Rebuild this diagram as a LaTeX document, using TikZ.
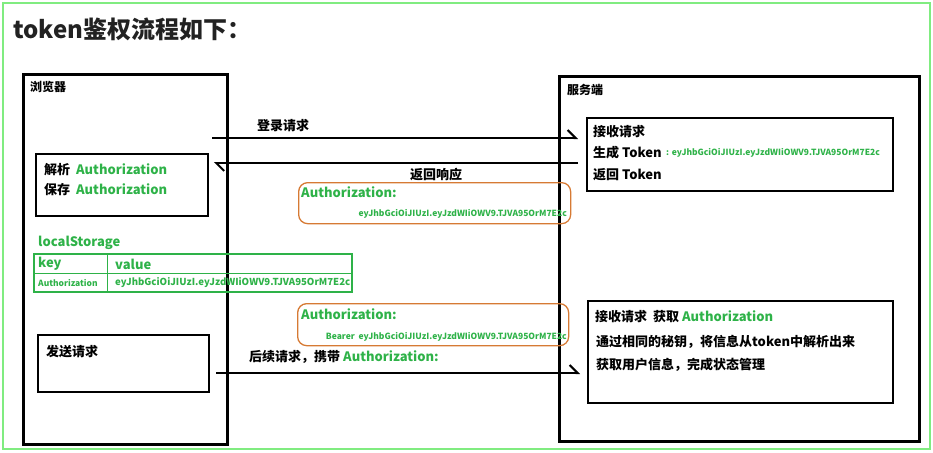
\documentclass[tikz,border=0pt]{standalone}
\usepackage{fontspec}
\setmainfont{Noto Sans CJK SC}
\usetikzlibrary{arrows.meta}
\definecolor{tgreen}{RGB}{46,178,72}
\definecolor{frameg}{RGB}{128,236,128}
\definecolor{borange}{RGB}{214,122,52}
\definecolor{titlec}{RGB}{34,34,34}
\tikzset{
  side/.style={draw, line width=2.5pt, anchor=north west, inner sep=0pt},
  box/.style={draw, line width=1.8pt, anchor=north west, inner sep=0pt},
  tokbox/.style={draw=borange, line width=1.3pt, rounded corners=9pt, anchor=north west, inner sep=0pt},
  txt/.style={anchor=west, inner sep=0pt, font=\bfseries\fontsize{13}{15}\selectfont},
  gtxt/.style={txt, text=tgreen},
  small/.style={inner sep=0pt, text=tgreen, font=\bfseries\fontsize{8.5}{10}\selectfont},
  msg/.style={line width=2pt, -{Straight Barb[left,length=8pt,width=16pt]}}
}
\begin{document}
\begin{tikzpicture}[x=1pt,y=-1pt]
\useasboundingbox (0,0) rectangle (933,452);
%Frame and title
\draw[frameg, line width=2pt] (3,3) rectangle (930,449);
\node[anchor=west, inner sep=0pt, text=titlec, font=\bfseries\fontsize{24}{28}\selectfont] (title) at (13,29) {token鉴权流程如下：};
%Browser
\node[side, minimum width=204pt, minimum height=370pt] (browser) at (22,73) {};
\node[txt, font=\bfseries\fontsize{12}{14}\selectfont] (browserlbl) at (30,87) {浏览器};
\node[box, minimum width=172pt, minimum height=62pt] (parse) at (35,153) {};
\node[txt] (parse1) at (44,170) {解析\ \ {\color{tgreen}Authorization}};
\node[txt] (parse2) at (44,190) {保存\ \ {\color{tgreen}Authorization}};
%localStorage table
\node[gtxt] (lslbl) at (38,243) {localStorage};
\draw[tgreen, line width=1.2pt] (34,254) rectangle (352,292);
\draw[tgreen, line width=1pt] (34,273) -- (352,273);
\draw[tgreen, line width=0.6pt] (107,254) -- (107,292);
\node[gtxt] (keylbl) at (38,264) {key};
\node[gtxt] (vallbl) at (115,264) {value};
\node[small, anchor=west] (keyval) at (38,283) {Authorization};
\node[small, anchor=west, font=\bfseries\fontsize{9.6}{11}\selectfont] (tokval) at (115,283) {eyJhbGciOiJIUzI.eyJzdWIiOWV9.TJVA95OrM7E2c};
\node[box, minimum width=171pt, minimum height=57pt] (send) at (37,334) {};
\node[txt] (sendlbl) at (46,352) {发送请求};
%Server
\node[side, minimum width=360pt, minimum height=365pt] (server) at (558,75) {};
\node[txt, font=\bfseries\fontsize{12}{14}\selectfont] (serverlbl) at (567,90) {服务端};
\node[box, minimum width=306pt, minimum height=73pt] (srv1) at (586,117) {};
\node[txt] (srv1a) at (593,132) {接收请求};
\node[txt] (srv1b) at (593,153) {生成 Token};
\node[small, anchor=west] (srv1tok) at (666,153) {: eyJhbGciOiJIUzI.eyJzdWIiOWV9.TJVA95OrM7E2c};
\node[txt] (srv1c) at (593,175) {返回 Token};
\node[box, minimum width=305pt, minimum height=102pt] (srv2) at (587,300) {};
\node[txt] (srv2a) at (595,317) {接收请求\ \ 获取 {\color{tgreen}Authorization}};
\node[txt] (srv2b) at (596,342) {通过相同的秘钥，将信息从token中解析出来};
\node[txt] (srv2c) at (596,365) {获取用户信息，完成状态管理};
%Tokens in transit
\node[tokbox, minimum width=272pt, minimum height=41pt] (resp) at (298,182) {};
\node[gtxt] (resplbl) at (301,192) {Authorization:};
\node[small, anchor=east] (resptok) at (567,214) {eyJhbGciOiJIUzI.eyJzdWIiOWV9.TJVA95OrM7E2c};
\node[tokbox, minimum width=271pt, minimum height=42pt] (req) at (297,303) {};
\node[gtxt] (reqlbl) at (301,314) {Authorization:};
\node[small, anchor=east] (reqtok) at (567,337) {Bearer\ \ eyJhbGciOiJIUzI.eyJzdWIiOWV9.TJVA95OrM7E2c};
%Messages
\coordinate (loginS) at (212,138);
\coordinate (backS) at (578,163);
\coordinate (nextS) at (216,373);
\draw[msg] (loginS) -- ([xshift=-8pt]srv1.west |- loginS);
\draw[msg] (backS) -- ([xshift=5pt]parse.east |- backS);
\draw[msg] (nextS) -- ([xshift=-7pt]srv2.west |- nextS);
\node[txt] (loginlbl) at (257,126) {登录请求};
\node[txt] (backlbl) at (410,175) {返回响应};
\node[txt] (nextlbl) at (249,357) {后续请求，携带 {\color{tgreen}Authorization:}};
\end{tikzpicture}
\end{document}
